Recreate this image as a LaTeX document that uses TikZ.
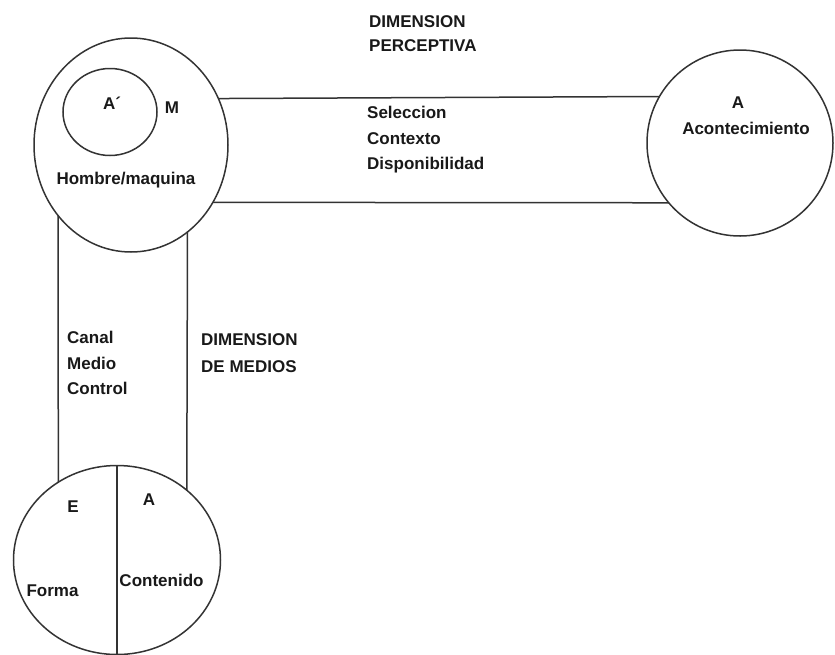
\documentclass[tikz,border=0pt]{standalone}
\usepackage{fontspec}
\setmainfont{Liberation Sans}
\usetikzlibrary{shapes.geometric}
\begin{document}
\begin{tikzpicture}[x=1pt,y=-1pt,
  ring/.style={draw=black!80,line width=1.5pt,ellipse,inner sep=0pt,outer sep=0pt},
  link/.style={draw=black!80,line width=1.5pt},
  lbl/.style={inner sep=0pt,font=\bfseries\fontsize{17}{25.5}\selectfont,text=black!90},
  blk/.style={lbl,align=left,anchor=west}]
\useasboundingbox[fill=white] (0,0) rectangle (835,654);
% circles
\node[ring,minimum width=194pt,minimum height=214pt] (hm) at (131,145) {};
\node[ring,minimum width=94pt,minimum height=87pt] (ap) at (110,112) {};
\node[ring,minimum width=186pt,minimum height=186pt] (ac) at (740,143) {};
\node[ring,minimum width=207pt,minimum height=189pt] (fc) at (117,560) {};
% connectors
\draw[link] (hm.28.88) -- (ac.150.3);
\draw[link] (hm.-35.27) -- (ac.220.2);
\draw[link] (hm.-136.0) -- (fc.127.1);
\draw[link] (hm.-57.2) -- (fc.45.0);
\draw[link] (fc.north) -- (fc.south);
% labels
\node[lbl] (tap) at (112,103) {A´};
\node[lbl] (tm) at (172,108) {M};
\node[lbl] (thm) at (126,180) {Hombre/maquina};
\node[lbl] (ta) at (738,103) {A};
\node[lbl] (tac) at (746,128) {Acontecimiento};
\node[blk,font=\bfseries\fontsize{17}{24}\selectfont] (tdp) at (369,34) {DIMENSION\\PERCEPTIVA};
\node[blk] (tsel) at (367,140) {Seleccion\\Contexto\\Disponibilidad};
\node[blk] (tcan) at (67,363) {Canal\\Medio\\Control};
\node[blk,font=\bfseries\fontsize{17}{27}\selectfont] (tdm) at (201,353) {DIMENSION\\DE MEDIOS};
\node[lbl] (te) at (73,507) {E};
\node[lbl] (tab) at (149,500) {A};
\node[lbl] (tfo) at (52.5,591) {Forma};
\node[lbl] (tco) at (161.5,580) {Contenido};
\end{tikzpicture}
\end{document}
